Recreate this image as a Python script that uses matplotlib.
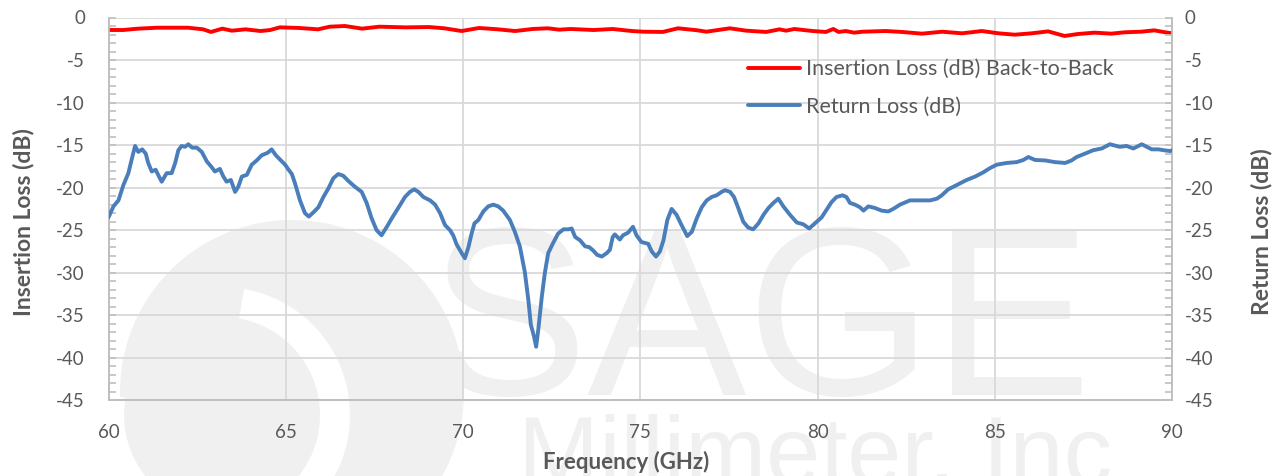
import matplotlib
matplotlib.use("Agg")
import matplotlib.pyplot as plt
from matplotlib.ticker import MultipleLocator
from matplotlib.patches import Circle, Wedge

plt.rcParams['font.family'] = ['Lato', 'DejaVu Sans']
plt.rcParams['axes.unicode_minus'] = False

# Back-to-back insertion loss (GHz, dB)
il_freq = [60.00, 60.41, 60.84, 61.38, 62.24, 62.67, 62.89, 63.21, 63.48, 63.86,
           64.29, 64.56, 64.83, 65.37, 65.91, 66.24, 66.67, 67.15, 67.64, 68.39,
           69.04, 69.47, 69.96, 70.45, 70.98, 71.47, 71.96, 72.39, 72.71, 73.03,
           73.68, 74.22, 74.76, 75.08, 75.63, 76.06, 76.60, 76.86, 77.52, 77.99,
           78.55, 78.92, 79.11, 79.34, 79.86, 80.23, 80.44, 80.59, 80.79, 81.03,
           81.26, 81.92, 82.38, 82.94, 83.51, 84.07, 84.63, 85.10, 85.56, 86.03,
           86.50, 86.96, 87.34, 87.81, 88.28, 88.65, 89.12, 89.49, 89.86, 90.00]
il_db = [-1.47, -1.47, -1.31, -1.20, -1.20, -1.39, -1.70, -1.31, -1.55, -1.39,
         -1.59, -1.47, -1.16, -1.23, -1.39, -1.08, -1.00, -1.31, -1.08, -1.16,
         -1.12, -1.27, -1.59, -1.23, -1.39, -1.59, -1.35, -1.27, -1.43, -1.35,
         -1.47, -1.35, -1.59, -1.67, -1.70, -1.27, -1.50, -1.67, -1.27, -1.55,
         -1.70, -1.39, -1.55, -1.35, -1.59, -1.70, -1.35, -1.70, -1.59, -1.78,
         -1.67, -1.59, -1.70, -1.90, -1.67, -1.86, -1.59, -1.86, -2.02, -1.86,
         -1.63, -2.17, -1.94, -1.78, -1.90, -1.74, -1.67, -1.51, -1.78, -1.85]

# Return loss (GHz, dB)
rl_freq = [60.00, 60.14, 60.28, 60.42, 60.56, 60.65, 60.75, 60.84, 60.95, 61.05,
           61.12, 61.22, 61.33, 61.40, 61.50, 61.64, 61.78, 61.88, 61.97, 62.06,
           62.16, 62.25, 62.36, 62.49, 62.63, 62.77, 62.91, 63.00, 63.14, 63.24,
           63.33, 63.45, 63.57, 63.66, 63.76, 63.90, 64.04, 64.18, 64.32, 64.49,
           64.60, 64.72, 64.84, 64.98, 65.08, 65.17, 65.26, 65.40, 65.54, 65.65,
           65.78, 65.92, 66.06, 66.20, 66.34, 66.48, 66.62, 66.76, 66.95, 67.14,
           67.28, 67.42, 67.56, 67.70, 67.85, 67.99, 68.17, 68.36, 68.50, 68.62,
           68.74, 68.88, 69.07, 69.21, 69.35, 69.49, 69.63, 69.72, 69.82, 69.96,
           70.05, 70.15, 70.24, 70.32, 70.43, 70.57, 70.71, 70.85, 70.99, 71.13,
           71.32, 71.46, 71.60, 71.74, 71.84, 71.91, 72.00, 72.06, 72.12, 72.22,
           72.31, 72.40, 72.54, 72.68, 72.83, 72.97, 73.06, 73.16, 73.30, 73.44,
           73.56, 73.67, 73.78, 73.91, 74.05, 74.14, 74.22, 74.28, 74.42, 74.51,
           74.65, 74.79, 74.89, 75.03, 75.22, 75.32, 75.44, 75.55, 75.65, 75.76,
           75.88, 76.02, 76.16, 76.32, 76.45, 76.59, 76.73, 76.87, 77.01, 77.15,
           77.29, 77.39, 77.53, 77.64, 77.76, 77.90, 78.04, 78.18, 78.33, 78.47,
           78.61, 78.75, 78.89, 79.03, 79.22, 79.41, 79.59, 79.76, 79.92, 80.11,
           80.25, 80.39, 80.53, 80.70, 80.81, 80.91, 81.05, 81.19, 81.29, 81.43,
           81.62, 81.80, 81.99, 82.13, 82.32, 82.60, 82.88, 83.17, 83.36, 83.50,
           83.68, 83.92, 84.20, 84.44, 84.67, 84.86, 85.05, 85.33, 85.61, 85.80,
           85.94, 86.13, 86.41, 86.69, 86.98, 87.16, 87.30, 87.54, 87.77, 88.01,
           88.24, 88.52, 88.71, 88.90, 89.14, 89.42, 89.61, 89.75, 89.94, 90.00]
rl_db = [-23.5, -22.2, -21.5, -19.7, -18.3, -16.75, -15.1, -15.8, -15.5, -16.0,
         -17.1, -18.1, -17.9, -18.5, -19.3, -18.3, -18.3, -17.1, -15.6, -15.1,
         -15.2, -14.9, -15.3, -15.3, -15.8, -16.9, -17.6, -18.1, -17.8, -18.7,
         -19.3, -19.1, -20.5, -19.9, -18.7, -18.5, -17.3, -16.8, -16.2, -15.9,
         -15.5, -16.2, -16.7, -17.3, -17.9, -18.4, -19.5, -21.5, -23.0, -23.4,
         -22.9, -22.3, -21.1, -20.1, -18.9, -18.4, -18.6, -19.2, -19.9, -20.5,
         -21.8, -23.6, -25.0, -25.6, -24.6, -23.6, -22.4, -21.1, -20.5, -20.2,
         -20.5, -21.1, -21.5, -22.0, -23.0, -24.4, -25.0, -25.6, -26.7, -27.7,
         -28.3, -27.0, -25.4, -24.2, -23.8, -22.8, -22.2, -22.0, -22.2, -22.7,
         -23.8, -25.2, -26.9, -29.9, -33.2, -36.1, -37.5, -38.7, -36.7, -32.8,
         -29.9, -27.7, -26.5, -25.4, -24.9, -24.9, -24.8, -25.8, -26.2, -26.9,
         -27.0, -27.4, -27.9, -28.1, -27.7, -27.3, -25.8, -25.5, -26.1, -25.6,
         -25.3, -24.6, -25.6, -26.4, -26.6, -27.5, -28.1, -27.5, -26.2, -23.8,
         -22.5, -23.2, -24.4, -25.7, -25.2, -23.6, -22.3, -21.5, -21.1, -20.9,
         -20.5, -20.3, -20.5, -21.1, -22.4, -24.0, -24.7, -24.9, -24.2, -23.2,
         -22.4, -21.8, -21.3, -22.2, -23.2, -24.1, -24.3, -24.8, -24.2, -23.5,
         -22.6, -21.7, -21.1, -20.9, -21.1, -21.8, -22.0, -22.3, -22.7, -22.2,
         -22.4, -22.7, -22.8, -22.5, -22.0, -21.5, -21.5, -21.5, -21.3, -20.9,
         -20.2, -19.7, -19.1, -18.7, -18.2, -17.7, -17.3, -17.1, -17.0, -16.75,
         -16.4, -16.75, -16.8, -17.0, -17.1, -16.8, -16.4, -16.0, -15.6, -15.4,
         -14.9, -15.2, -15.1, -15.4, -14.9, -15.5, -15.5, -15.6, -15.7, -15.6]

x_ticks = [60, 65, 70, 75, 80, 85, 90]
y_ticks = [0, -5, -10, -15, -20, -25, -30, -35, -40, -45]

W, H = 1277, 476
fig = plt.figure(figsize=(W / 100, H / 100), dpi=100)

# Company watermark drawn in pixel space behind the chart
wm = fig.add_axes([0, 0, 1, 1], zorder=0)
wm.set_xlim(0, W)
wm.set_ylim(H, 0)
wm.axis('off')
wm_col = '#f0f0f0'
wm.add_patch(Circle((292, 392), 172, color=wm_col, lw=0))
wm.add_patch(Wedge((222, 415), 128, -80, 190, width=30, color='white', lw=0))
wm.text(760, 395, 'SAGE', fontsize=172, color=wm_col, ha='center', va='baseline',
        family='Liberation Sans')
wm.text(815, 484, 'Millimeter, Inc', fontsize=70, color=wm_col, ha='center',
        va='baseline', family='Liberation Sans')

left, right, top, bottom = 108.5, 1172.3, 17.5, 400.3
ax = fig.add_axes([left / W, 1 - bottom / H, (right - left) / W, (bottom - top) / H],
                  zorder=1)
ax.patch.set_alpha(0)
ax2 = ax.twinx()

grid_col = '#d9d9d9'
for a in (ax, ax2):
    a.set_ylim(-45, 0)
    a.set_yticks(y_ticks)
    a.yaxis.set_minor_locator(MultipleLocator(1))
    a.yaxis.remove_overlapping_locs = False
    for s in a.spines.values():
        s.set_color('#bfbfbf')
        s.set_linewidth(1.2)
    a.spines['top'].set_visible(False)

ax.set_xlim(60, 90)
ax.set_xticks(x_ticks)
ax.grid(True, color=grid_col, lw=1.3)
ax.set_axisbelow(True)

tick_col = '#595959'
ax.tick_params(axis='x', length=0, pad=17, labelsize=13.5, labelcolor=tick_col)
ax.tick_params(axis='y', which='major', length=0, pad=17, labelsize=13.5,
               labelcolor=tick_col)
ax2.tick_params(axis='y', which='major', length=0, pad=9, labelsize=13.5,
                labelcolor=tick_col)
for a in (ax, ax2):
    a.tick_params(axis='y', which='minor', direction='in', length=5,
                  width=1.2, color='#bfbfbf')

l1, = ax.plot(il_freq, il_db, color='#ff0000', lw=2.8,
              solid_joinstyle='round', solid_capstyle='round', zorder=3,
              label='Insertion Loss (dB) Back-to-Back')
l2, = ax2.plot(rl_freq, rl_db, color='#4a7ebb', lw=2.8,
               solid_joinstyle='round', solid_capstyle='round', zorder=3,
               label='Return Loss (dB)')

lab_col = '#595959'
ax.set_xlabel('Frequency (GHz)', fontsize=16, fontweight='bold', color=lab_col)
ax.set_ylabel('Insertion Loss (dB)', fontsize=16.5, fontweight='bold', color=lab_col)
ax2.set_ylabel('Return Loss (dB)', fontsize=16.5, fontweight='bold', color=lab_col)
ax.xaxis.set_label_coords(0.487, -0.132)
ax.yaxis.set_label_coords(-0.070, 0.465)
ax2.yaxis.set_label_coords(1.074, 0.44)

leg = ax2.legend(handles=[l1, l2], loc='upper left', bbox_to_anchor=(0.601, 0.891),
                 frameon=False, fontsize=15.5, handlelength=2.42, handletextpad=0.28,
                 labelspacing=0.8, borderpad=0, borderaxespad=0)
for t in leg.get_texts():
    t.set_color(lab_col)

fig.savefig('out.png', dpi=100)
